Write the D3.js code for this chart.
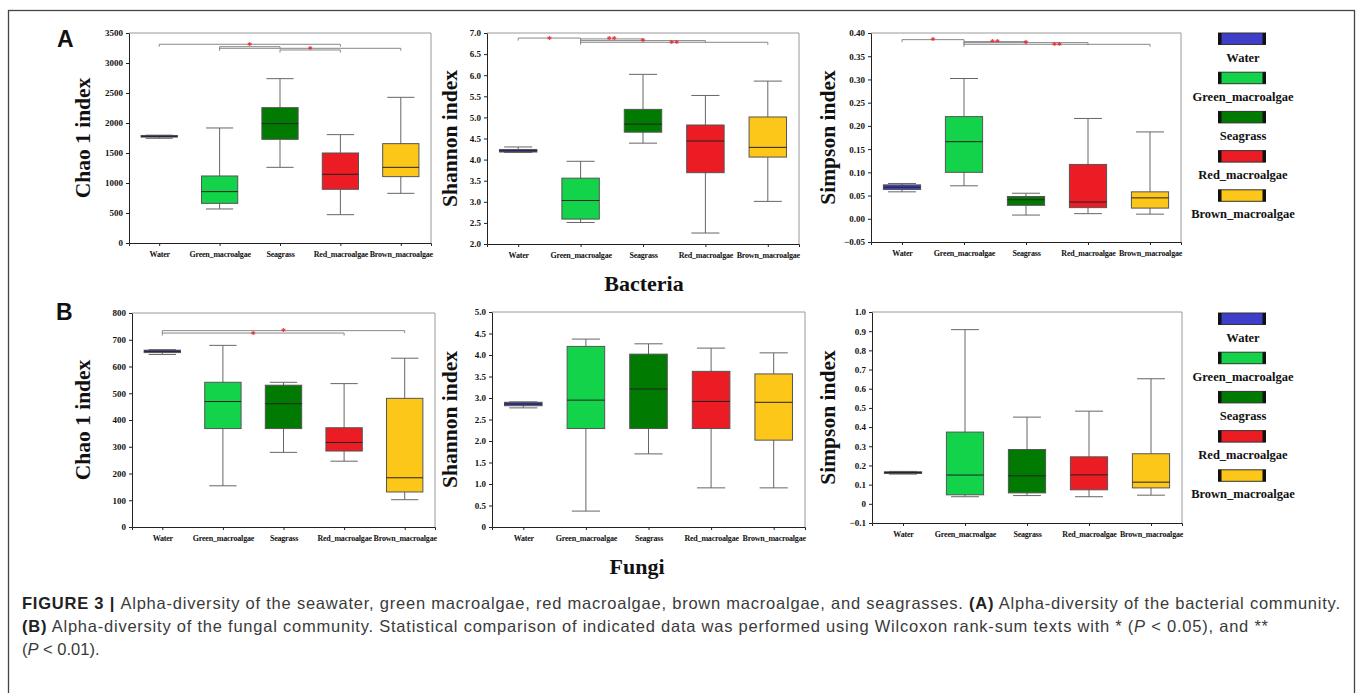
<!DOCTYPE html>
<html>
<head>
<script src="https://d3js.org/d3.v7.min.js" charset="utf-8"></script>
<style>
  body{margin:0;background:#fff;}
  svg{display:block;}
  .serif{font-family:"Liberation Serif","Times New Roman",serif;font-weight:bold;fill:#111;}
  .caption{font-family:"Liberation Sans",Arial,sans-serif;fill:#3a3a3a;font-size:16.5px;}
</style>
</head>
<body>
<div id="chart"></div>
<script>
var groups = ["Water","Green_macroalgae","Seagrass","Red_macroalgae","Brown_macroalgae"]
var groupColors = ["#3e3ec9","#12d34a","#007a00","#ec1c24","#fdc719"]

// [min, q1, median, q3, max] for each group
var bacChao1 = [[1745,1765,1778,1792,1797],[567,661,856,1117,1917],[1261,1728,1989,2256,2739],[472,895,1145,1500,1806],[828,1106,1261,1656,2428]]
var bacShannon = [[4.17,4.18,4.21,4.24,4.30],[2.51,2.59,3.03,3.56,3.96],[4.39,4.65,4.84,5.19,6.02],[2.26,3.69,4.44,4.82,5.52],[3.01,4.06,4.29,5.01,5.86]]
var bacSimpson = [[0.058,0.063,0.068,0.073,0.076],[0.071,0.100,0.166,0.220,0.302],[0.008,0.029,0.041,0.048,0.055],[0.011,0.024,0.036,0.117,0.216],[0.010,0.023,0.045,0.058,0.187]]
var funChao1 = [[645,652,657,661,663],[154,368,469,541,679],[279,368,461,530,541],[246,284,316,371,536],[102,131,184,481,631]]
var funShannon = [[2.77,2.82,2.86,2.90,2.91],[0.37,2.29,2.95,4.20,4.37],[1.70,2.29,3.21,4.02,4.26],[0.91,2.29,2.92,3.62,4.16],[0.91,2.02,2.90,3.56,4.05]]
var funSimpson = [[0.155,0.158,0.163,0.167,0.169],[0.037,0.047,0.150,0.374,0.908],[0.043,0.057,0.146,0.283,0.452],[0.037,0.073,0.151,0.245,0.483],[0.045,0.083,0.113,0.261,0.652]]

// y tick values
var chaoBacTicks = [0,500,1000,1500,2000,2500,3000,3500]
var shanBacTicks = [2.0,2.5,3.0,3.5,4.0,4.5,5.0,5.5,6.0,6.5,7.0]
var simpBacTicks = [-0.05,0,0.05,0.10,0.15,0.20,0.25,0.30,0.35,0.40]
var chaoFunTicks = [0,100,200,300,400,500,600,700,800]
var shanFunTicks = [0,0.5,1.0,1.5,2.0,2.5,3.0,3.5,4.0,4.5,5.0]
var simpFunTicks = [-0.1,0,0.1,0.2,0.3,0.4,0.5,0.6,0.7,0.8,0.9,1.0]

// significance brackets: [group a, group b, level, mark]
var chaoBacSig = [[0,3,3312,"*"],[1,2,3272,""],[1,4,3245,"*"],[2,3,3217,""]]
var shanBacSig = [[0,1,6.88,"*"],[1,2,6.86,"**"],[1,3,6.82,"*"],[1,4,6.78,"**"]]
var simpBacSig = [[0,1,0.3857,"*"],[1,2,0.3814,"**"],[1,3,0.3793,"*"],[1,4,0.3757,"**"]]
var chaoFunSig = [[0,4,734,"*"],[0,3,725,"*"]]

var W = 1358, H = 693
var svg = d3.select("#chart").append("svg").attr("width",W).attr("height",H)
svg.append("rect").attr("width",W).attr("height",H).attr("fill","#fff")
svg.append("rect").attr("x",8.5).attr("y",10.5).attr("width",1346).attr("height",720)
    .attr("fill","none").attr("stroke","#444").attr("stroke-width",1.3)

var fmtInt = d3.format("d")
var fmt1 = function(d){ return d===0 ? "0" : d3.format(".1f")(d) }
var fmt2 = d3.format(".2f")

var panels = [
    {stats:bacChao1, domain:[0,3500], ticks:chaoBacTicks, fmt:fmtInt, sig:chaoBacSig, title:"Chao 1 index", x0:129, x1:431, y0:33, y1:243, tx:90},
    {stats:bacShannon, domain:[2,7], ticks:shanBacTicks, fmt:d3.format(".1f"), sig:shanBacSig, title:"Shannon index", x0:487, x1:799, y0:33, y1:244, tx:457},
    {stats:bacSimpson, domain:[-0.05,0.40], ticks:simpBacTicks, fmt:fmt2, sig:simpBacSig, title:"Simpson index", x0:871, x1:1181, y0:33, y1:242, tx:835},
    {stats:funChao1, domain:[0,800], ticks:chaoFunTicks, fmt:fmtInt, sig:chaoFunSig, title:"Chao 1 index", x0:132, x1:435, y0:313, y1:527, tx:90},
    {stats:funShannon, domain:[0,5], ticks:shanFunTicks, fmt:fmt1, sig:[], title:"Shannon index", x0:492, x1:805, y0:312, y1:527, tx:457},
    {stats:funSimpson, domain:[-0.1,1.0], ticks:simpFunTicks, fmt:fmt1, sig:[], title:"Simpson index", x0:872, x1:1182, y0:312, y1:523, tx:835}
]

panels.forEach(drawPanel)

function drawPanel(p){
    var x = d3.scalePoint().domain(groups).range([p.x0,p.x1]).padding(0.5)
    var y = d3.scaleLinear().domain(p.domain).range([p.y1,p.y0])
    var bw = x.step()*0.6
    var cw = bw*0.75
    var g = svg.append("g")

    // light frame on top and right
    g.append("path").attr("d","M"+p.x0+","+p.y0+"H"+p.x1+"V"+p.y1)
        .attr("fill","none").attr("stroke","#9a9a9a").attr("stroke-width",1)

    var yAxis = g.append("g").attr("transform","translate("+p.x0+",0)")
        .call(d3.axisLeft(y).tickValues(p.ticks).tickFormat(p.fmt).tickSizeInner(3).tickSizeOuter(0).tickPadding(3))
    var xAxis = g.append("g").attr("transform","translate(0,"+p.y1+")")
        .call(d3.axisBottom(x).tickSizeInner(3).tickSizeOuter(3).tickPadding(5))
    ;[yAxis,xAxis].forEach(function(a){
        a.attr("font-family",null)
        a.selectAll("path,line").attr("stroke","#222")
        a.selectAll("text").attr("class","serif")
            .style("font-family","'Liberation Serif','Times New Roman',serif")
    })
    yAxis.selectAll("text").attr("font-size",9)
    xAxis.selectAll("text").attr("font-size",8).attr("letter-spacing",-0.2)

    var boxes = g.selectAll(".box").data(p.stats).enter().append("g")
        .attr("transform",function(d,i){ return "translate("+x(groups[i])+",0)" })
    boxes.append("line").attr("y1",function(d){return y(d[0])}).attr("y2",function(d){return y(d[4])})
        .attr("stroke","#666").attr("stroke-width",1)
    boxes.append("line").attr("x1",-cw/2).attr("x2",cw/2)
        .attr("y1",function(d){return y(d[4])}).attr("y2",function(d){return y(d[4])})
        .attr("stroke","#666")
    boxes.append("line").attr("x1",-cw/2).attr("x2",cw/2)
        .attr("y1",function(d){return y(d[0])}).attr("y2",function(d){return y(d[0])})
        .attr("stroke","#666")
    boxes.append("rect").attr("x",-bw/2).attr("width",bw)
        .attr("y",function(d){return y(d[3])})
        .attr("height",function(d){return Math.max(1,y(d[1])-y(d[3]))})
        .attr("fill",function(d,i){return groupColors[i]})
        .attr("stroke","#555").attr("stroke-width",1)
    boxes.append("line").attr("x1",-bw/2).attr("x2",bw/2)
        .attr("y1",function(d){return y(d[2])}).attr("y2",function(d){return y(d[2])})
        .attr("stroke","#222").attr("stroke-width",1)

    // significance brackets
    p.sig.forEach(function(s){
        var xa = x(groups[s[0]]), xb = x(groups[s[1]]), ly = y(s[2])
        g.append("path").attr("d","M"+xa+","+(ly+2.5)+"V"+ly+"H"+xb+"V"+(ly+2.5))
            .attr("fill","none").attr("stroke","#888").attr("stroke-width",1)
        if(s[3]){
            g.append("text").attr("x",(xa+xb)/2).attr("y",ly+4.5)
                .attr("text-anchor","middle").attr("font-size",10).attr("font-weight","bold")
                .attr("font-family","Liberation Serif").attr("fill","#e8202a").text(s[3])
        }
    })

    g.append("text").attr("class","serif").attr("font-size",21.5)
        .attr("text-anchor","middle")
        .attr("transform","translate("+p.tx+","+((p.y0+p.y1)/2)+") rotate(-90)")
        .text(p.title)
}

// legends
;[33,313].forEach(function(top){
    var lg = svg.append("g")
    groups.forEach(function(name,i){
        var ty = top + i*39.2
        lg.append("rect").attr("x",1218.5).attr("y",ty).attr("width",47).attr("height",11.5)
            .attr("fill",groupColors[i]).attr("stroke","#333").attr("stroke-width",1)
        lg.append("rect").attr("x",1218).attr("y",ty).attr("width",3.5).attr("height",11.5).attr("fill","#111")
        lg.append("rect").attr("x",1262.5).attr("y",ty).attr("width",3.5).attr("height",11.5).attr("fill","#111")
        lg.append("text").attr("class","serif").attr("font-size",12.5)
            .attr("x",1243).attr("y",ty+28.5).attr("text-anchor","middle").text(name)
    })
})

// panel letters and group titles
svg.append("text").attr("x",57).attr("y",47).attr("font-family","Liberation Sans").attr("font-weight","bold")
    .attr("font-size",23).attr("fill","#111").text("A")
svg.append("text").attr("x",56).attr("y",320).attr("font-family","Liberation Sans").attr("font-weight","bold")
    .attr("font-size",23).attr("fill","#111").text("B")
svg.append("text").attr("class","serif").attr("font-size",22).attr("x",644).attr("y",291)
    .attr("text-anchor","middle").text("Bacteria")
svg.append("text").attr("class","serif").attr("font-size",22).attr("x",637).attr("y",574)
    .attr("text-anchor","middle").text("Fungi")

// caption
var captionLines = [
    [["FIGURE 3 | ","b"],["Alpha-diversity of the seawater, green macroalgae, red macroalgae, brown macroalgae, and seagrasses. ",""],["(A)","b"],[" Alpha-diversity of the bacterial community.",""]],
    [["(B)","b"],[" Alpha-diversity of the fungal community. Statistical comparison of indicated data was performed using Wilcoxon rank-sum texts with * (",""],["P","i"],[" < 0.05), and **",""]],
    [["(",""],["P","i"],[" < 0.01).",""]]
]
var captionWidths = [1318,1246,null]
captionLines.forEach(function(line,li){
    var t = svg.append("text").attr("class","caption").attr("x",22).attr("y",609+li*23)
    if(captionWidths[li]) t.attr("textLength",captionWidths[li]).attr("lengthAdjust","spacing")
    line.forEach(function(seg){
        var ts = t.append("tspan").text(seg[0])
        if(seg[1]=="b") ts.attr("font-weight","bold").attr("fill","#222")
        if(seg[1]=="i") ts.attr("font-style","italic")
    })
})
</script>
</body>
</html>
